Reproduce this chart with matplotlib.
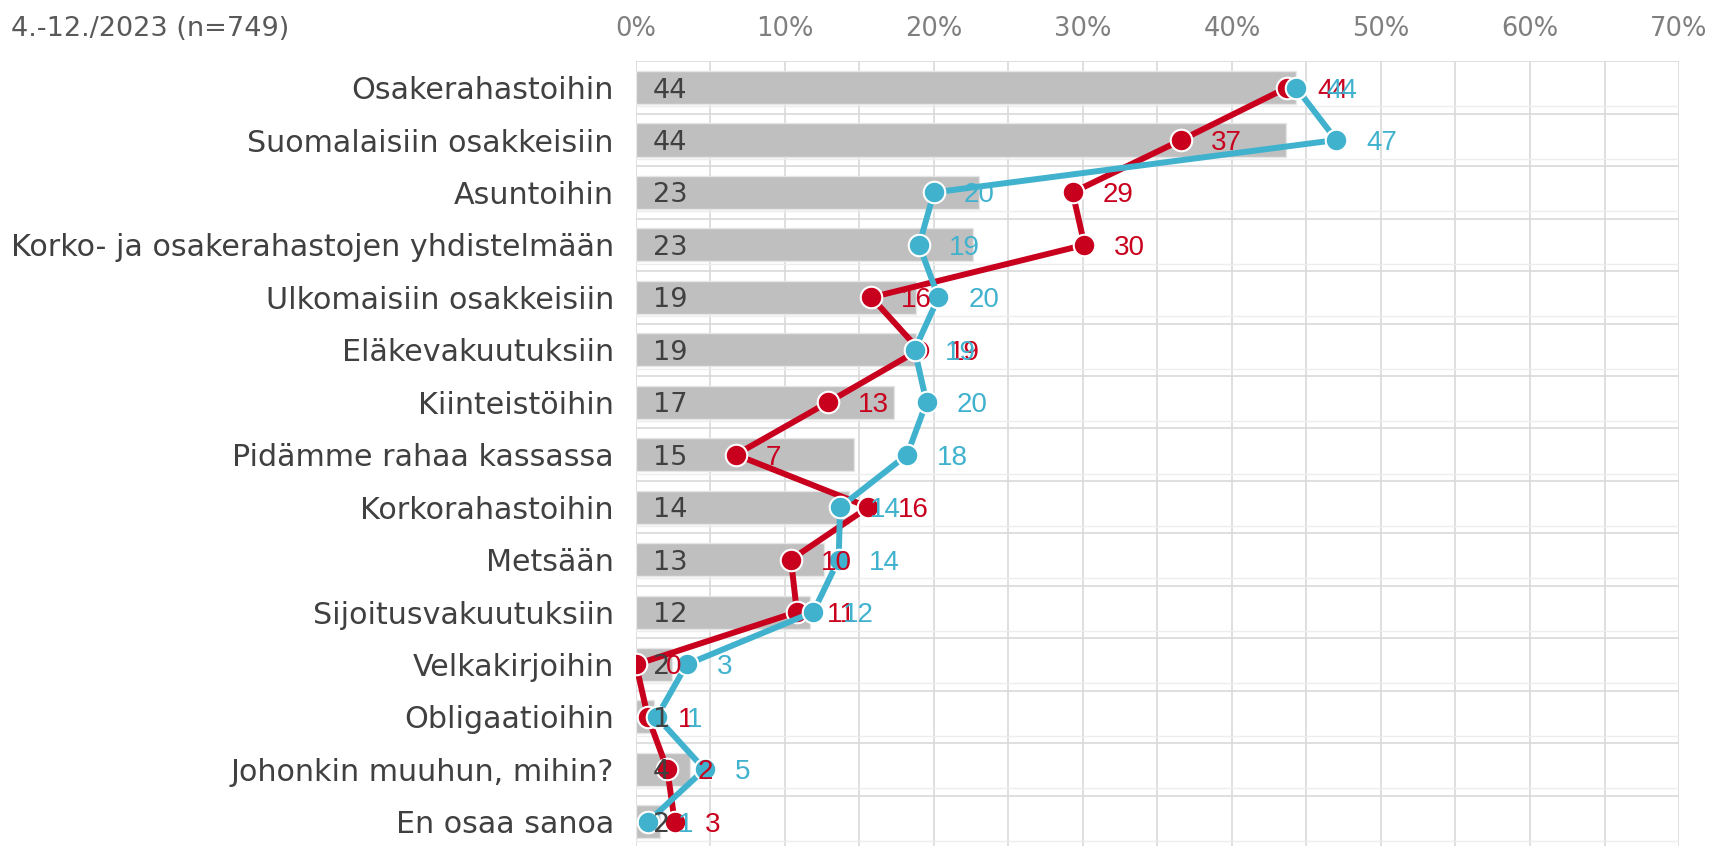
import matplotlib
matplotlib.use('Agg')
import matplotlib.pyplot as plt
import numpy as np

# kohteet ja osuudet (%)
kohteet = ['Osakerahastoihin', 'Suomalaisiin osakkeisiin', 'Asuntoihin',
           'Korko- ja osakerahastojen yhdistelmään', 'Ulkomaisiin osakkeisiin',
           'Eläkevakuutuksiin', 'Kiinteistöihin', 'Pidämme rahaa kassassa',
           'Korkorahastoihin', 'Metsään', 'Sijoitusvakuutuksiin', 'Velkakirjoihin',
           'Obligaatioihin', 'Johonkin muuhun, mihin?', 'En osaa sanoa']
palkit = [44.3, 43.6, 23.0, 22.6, 18.8, 18.8, 17.3, 14.6, 14.3, 12.6, 11.7, 2.4, 1.2, 3.6, 1.6]
punainen = [43.7, 36.6, 29.3, 30.1, 15.8, 19.0, 12.9, 6.7, 15.6, 10.4, 10.8, 0.0, 0.8, 2.1, 2.6]
sininen = [44.3, 47.0, 20.0, 19.0, 20.3, 18.7, 19.5, 18.2, 13.7, 13.6, 11.9, 3.4, 1.4, 4.6, 0.8]
otsikko = '4.-12./2023 (n=749)'
xtiks = [0, 10, 20, 30, 40, 50, 60, 70]

PUNA = '#C8001E'
SINI = '#41B2CE'

fig = plt.figure(figsize=(17.11, 8.46), dpi=100)
ax = fig.add_axes([0.3717, -0.0024, 0.6096, 0.9299])

y = np.arange(len(kohteet))

# ruudukko
for v in np.arange(0, 71, 5):
    ax.axvline(v, color='#D9D9D9', lw=1.2, zorder=0)
for r in np.arange(-0.5, len(kohteet), 1.0):
    ax.axhline(r, color='#D9D9D9', lw=1.2, zorder=0)
    ax.axhline(r - 0.14, color='#EDEDED', lw=1.0, zorder=0)

ax.barh(y, palkit, height=0.63, color='#BFBFBF', edgecolor='#E6E6E6', lw=1, zorder=1)

ax.plot(punainen, y, color=PUNA, lw=4.3, marker='o', ms=15.5,
        mfc=PUNA, mec='white', mew=1.5, zorder=3, solid_capstyle='round')
ax.plot(sininen, y, color=SINI, lw=4.3, marker='o', ms=15.5,
        mfc=SINI, mec='white', mew=1.5, zorder=4, solid_capstyle='round')

for i, v in enumerate(palkit):
    ax.annotate(f'{v:.0f}', (0, i), xytext=(12, 0), textcoords='offset points',
                ha='left', va='center_baseline', fontsize=19.5, color='#404040', zorder=5)
for i, v in enumerate(punainen):
    ax.annotate(f'{v:.0f}', (v, i), xytext=(21.5, 0), textcoords='offset points',
                ha='left', va='center_baseline', fontsize=20, color=PUNA,
                family='Liberation Sans', zorder=6)
for i, v in enumerate(sininen):
    ax.annotate(f'{v:.0f}', (v, i), xytext=(21.5, 0), textcoords='offset points',
                ha='left', va='center_baseline', fontsize=20, color=SINI,
                family='Liberation Sans', zorder=7)

ax.set_xlim(0, 70)
ax.set_ylim(len(kohteet) - 0.5, -0.5)
ax.xaxis.tick_top()
ax.set_xticks(xtiks)
ax.set_xticklabels([f'{t}%' for t in xtiks], fontsize=18.5, color='#7F7F7F')
ax.set_yticks(y)
ax.set_yticklabels(kohteet, fontsize=21.7, color='#404040')
ax.tick_params(axis='both', length=0)
ax.tick_params(axis='x', pad=14)
ax.tick_params(axis='y', pad=16)
for s in ax.spines.values():
    s.set_visible(False)

fig.text(11 / 1711, 1 - 29.5 / 846, otsikko, fontsize=19.5, color='#595959',
         ha='left', va='center')

fig.savefig('out.png', dpi=100)
